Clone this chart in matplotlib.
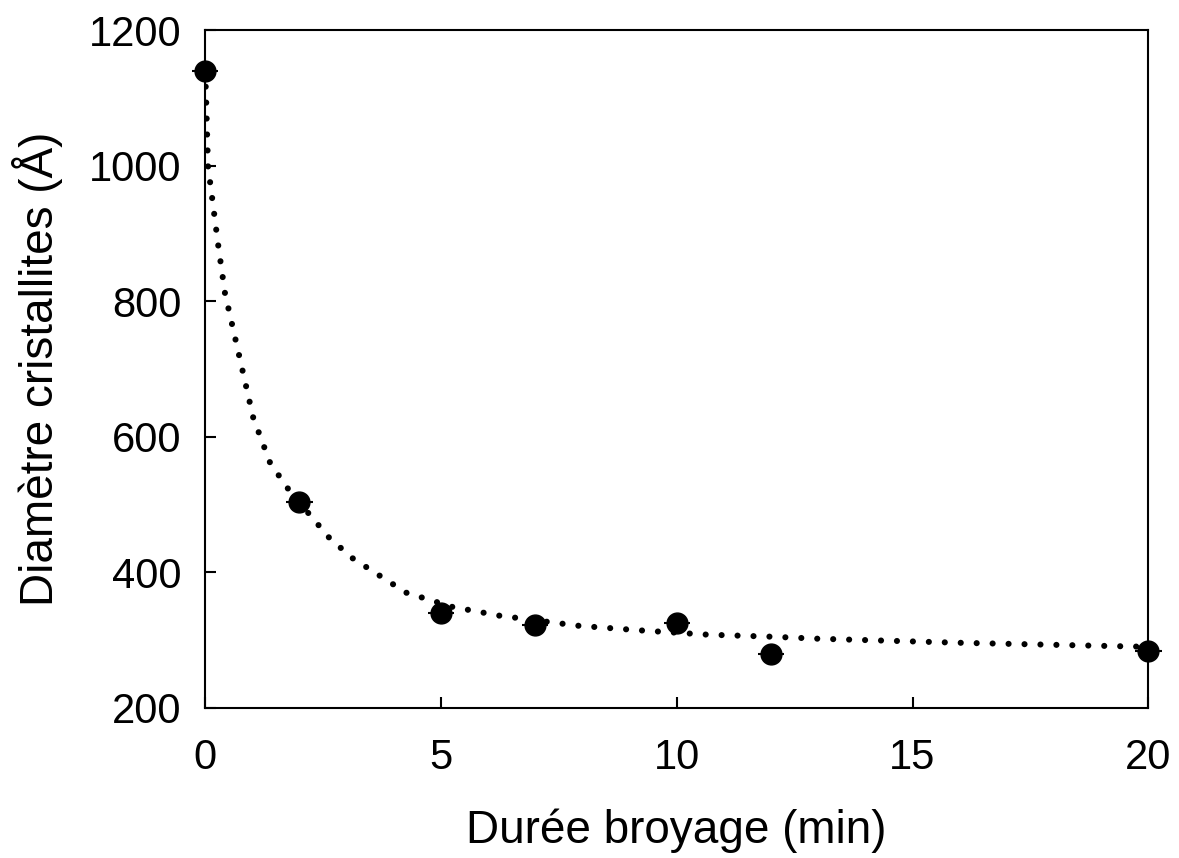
import numpy as np
import matplotlib.pyplot as plt

plt.rcParams['font.family'] = ['Liberation Sans', 'DejaVu Sans']

# measured points
duree = [0, 2, 5, 7, 10, 12, 20]
diametre = [1140, 504, 340, 322, 325, 279, 284]

# dotted trend curve
courbe_x = [0, 0.02, 0.06, 0.28, 0.42, 0.72, 1.02, 1.38, 1.76, 2.18, 2.63, 3.12,
            4.26, 5.24, 6.24, 7.93, 9.29, 10.65, 12, 13, 16, 20]
courbe_y = [1140, 1100, 1000, 881, 812, 720, 628, 561, 523, 488, 451, 421,
            370, 349, 336, 321, 314, 308, 305, 302, 296, 290]

fig = plt.figure(figsize=(11.79, 8.58), dpi=100)
ax = fig.add_axes([0.174, 0.175, 0.8, 0.79])

ax.plot(courbe_x, courbe_y, color='k', lw=4.4,
        linestyle=(0, (0.01, 2.6)), dash_capstyle='round', zorder=2)
ax.errorbar(duree, diametre, xerr=0.28, fmt='o', color='k', ms=15,
            elinewidth=1.5, capsize=0, zorder=3, clip_on=False)

ax.set_xlim(0, 20)
ax.set_ylim(200, 1200)
ax.set_xticks([0, 5, 10, 15, 20])
ax.set_yticks([200, 400, 600, 800, 1000, 1200])
ax.tick_params(direction='in', length=8, width=1.5, labelsize=30)
ax.tick_params(axis='x', pad=22)
ax.tick_params(axis='y', pad=17)
for s in ax.spines.values():
    s.set_linewidth(1.5)

ax.set_xlabel('Durée broyage (min)', fontsize=33, labelpad=22)
ax.set_ylabel('Diamètre cristallites (Å)', fontsize=33, labelpad=19)

fig.savefig('out.png', dpi=100)
